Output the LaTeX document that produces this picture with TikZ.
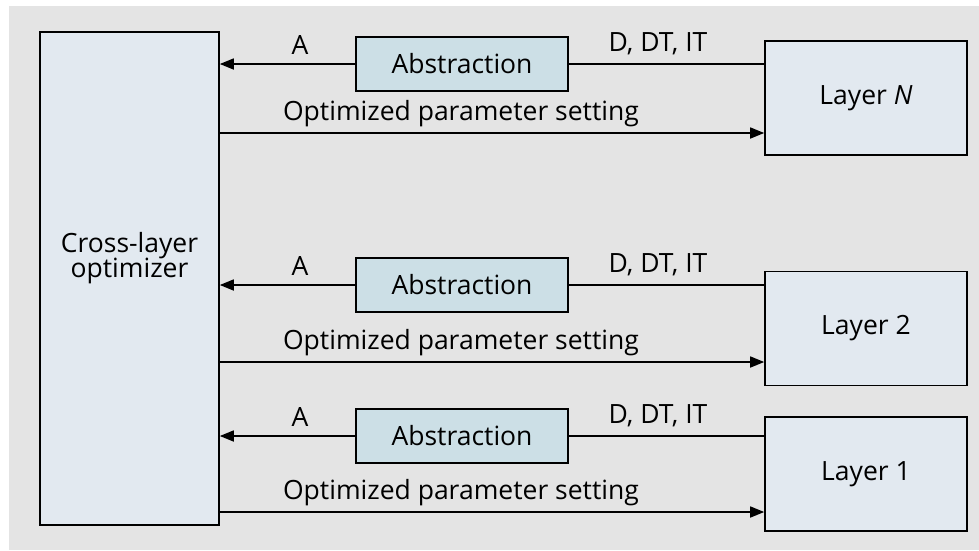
\documentclass[tikz,border=0pt]{standalone}
\usepackage{fontspec}
\setmainfont{Open Sans}
\usetikzlibrary{arrows.meta}
\definecolor{bggray}{HTML}{E4E4E4}
\definecolor{boxfill}{HTML}{E2E9F0}
\definecolor{absfill}{HTML}{CCDFE6}
\begin{document}
\begin{tikzpicture}[x=1pt,y=-1pt,
  every node/.style={font=\fontsize{26.5}{29}\selectfont},
  bigbox/.style={draw=black,line width=1.6pt,fill=boxfill,inner sep=0pt},
  absbox/.style={draw=black,line width=1.6pt,fill=absfill,inner sep=0pt,minimum width=212pt,minimum height=54pt},
  layerbox/.style={draw=black,line width=1.6pt,fill=boxfill,inner sep=0pt,minimum width=202pt,minimum height=114pt},
  conn/.style={line width=1.6pt},
  arr/.style={line width=1.6pt,-{Triangle[length=14pt,width=11pt]}},
  lbl/.style={inner sep=0pt}]
\useasboundingbox (0,0) rectangle (979,550);
\fill[bggray] (9,6) rectangle (979,550);
\node[bigbox,minimum width=179pt,minimum height=493pt] (opt) at (129.5,278.5) {};
\node[lbl,align=center] (opt-l) at (129.5,258) {Cross-layer\\[-4pt]optimizer};
% Layer N
\node[layerbox] (ln) at (866,98) {Layer \textit{N}};
\node[absbox] (an) at (462,64) {Abstraction};
\draw[arr] (an.west) -- (an.west -| opt.east);
\draw[conn] (an.east) -- (an.east -| ln.west);
\coordinate (on) at (219,133);
\draw[arr] (on) -- (on -| ln.west);
\node[lbl] (an-a) at (300,45) {A};
\node[lbl] (an-d) at (658,44) {D, DT, IT};
\node[lbl] (on-l) at (461,114) {Optimized parameter setting};
% Layer 2
\node[layerbox] (l2) at (866,328.5) {Layer 2};
\node[absbox] (a2) at (462,285) {Abstraction};
\draw[arr] (a2.west) -- (a2.west -| opt.east);
\draw[conn] (a2.east) -- (a2.east -| l2.west);
\coordinate (o2) at (219,362);
\draw[arr] (o2) -- (o2 -| l2.west);
\node[lbl] (a2-a) at (300,266) {A};
\node[lbl] (a2-d) at (658,265) {D, DT, IT};
\node[lbl] (o2-l) at (461,343) {Optimized parameter setting};
% Layer 1
\node[layerbox] (l1) at (866,474) {Layer 1};
\node[absbox] (a1) at (462,436) {Abstraction};
\draw[arr] (a1.west) -- (a1.west -| opt.east);
\draw[conn] (a1.east) -- (a1.east -| l1.west);
\coordinate (o1) at (219,512);
\draw[arr] (o1) -- (o1 -| l1.west);
\node[lbl] (a1-a) at (300,417) {A};
\node[lbl] (a1-d) at (658,416) {D, DT, IT};
\node[lbl] (o1-l) at (461,493) {Optimized parameter setting};
\end{tikzpicture}
\end{document}
